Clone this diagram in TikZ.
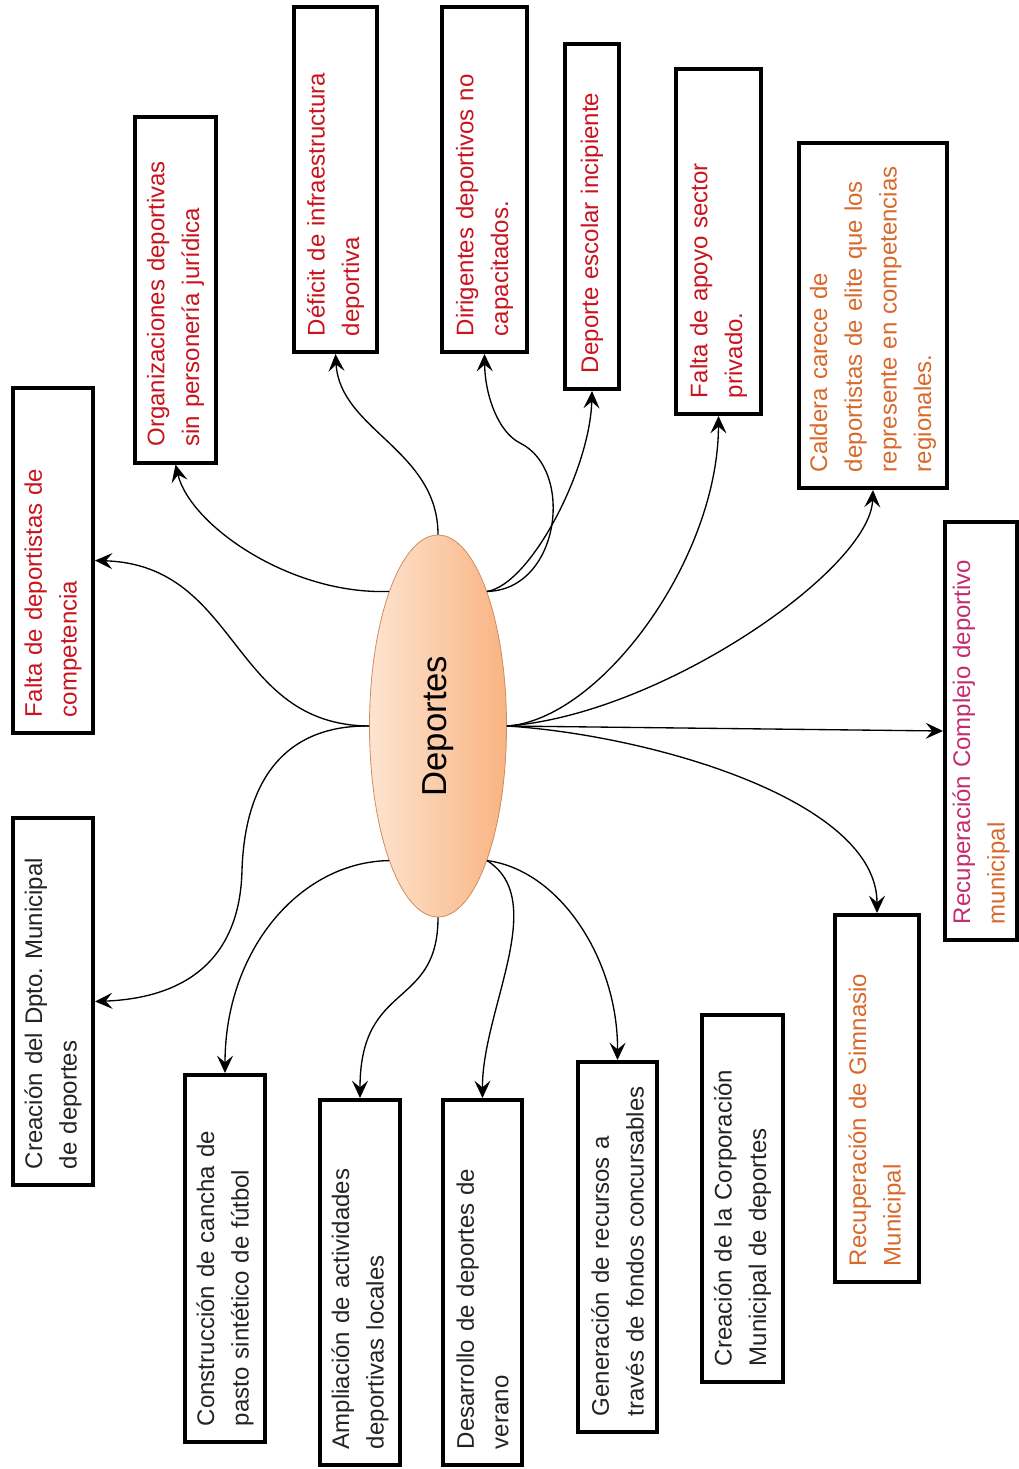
\documentclass[tikz,border=0pt]{standalone}
\usepackage{fontspec}
\setmainfont{Liberation Sans}
\usepackage{graphicx}
\usetikzlibrary{arrows.meta,shapes.geometric}

\definecolor{probred}{RGB}{200,20,30}
\definecolor{propblack}{RGB}{35,35,35}
\definecolor{ambar}{RGB}{215,105,45}
\definecolor{rosa}{RGB}{195,45,110}
\definecolor{peachL}{RGB}{253,228,208}
\definecolor{peachD}{RGB}{249,180,130}
\definecolor{peachEdge}{RGB}{205,140,95}

\tikzset{
  card/.style={draw, line width=3pt, rotate=90, align=left, inner xsep=12pt, inner ysep=0pt,
    font=\fontsize{18}{26}\selectfont\frenchspacing},
  problema/.style={card, text=probred},
  propuesta/.style={card, text=propblack},
  rama/.style={->, line width=1pt},
}

\begin{document}
\begin{tikzpicture}[x=0.75pt,y=-0.75pt,>={Stealth[length=13pt,width=12pt,inset=5pt]}]
\useasboundingbox (0,0) rectangle (1019,1469);

\node[ellipse, draw=peachEdge, line width=0.6pt, left color=peachL, right color=peachD,
  minimum width=102.75pt, minimum height=286.5pt, inner sep=0pt,
  font=\fontsize{26}{30}\selectfont] (dep) at (438,726) {\rotatebox{90}{Deportes}};

% problemas (arriba)
\node[problema, minimum width=258.75pt, minimum height=60pt, text width=234.75pt] (fdep) at (53,560.5)
  {Falta de deportistas de\\competencia};
\node[problema, minimum width=258.75pt, minimum height=60.75pt, text width=234.75pt] (org) at (175.5,290)
  {Organizaciones deportivas\\sin personería jurídica};
\node[problema, minimum width=258.75pt, minimum height=62.25pt, text width=234.75pt] (defi) at (335.5,179.5)
  {Déficit de infraestructura\\deportiva};
\node[problema, minimum width=258.75pt, minimum height=63.75pt, text width=234.75pt] (diri) at (484.5,179.5)
  {Dirigentes deportivos no\\capacitados.};
\node[problema, minimum width=258.75pt, minimum height=40.5pt, text width=234.75pt] (esco) at (592,216.5)
  {Deporte escolar incipiente};
\node[problema, minimum width=258.75pt, minimum height=63.75pt, text width=234.75pt] (apoyo) at (718.5,241.5)
  {Falta de apoyo sector\\privado.};
\node[card, text=ambar, minimum width=258.75pt, minimum height=111pt, text width=234.75pt] (cald) at (873,315.5)
  {Caldera carece de\\deportistas de elite que los\\represente en competencias\\regionales.};
\node[card, text=rosa, minimum width=313.5pt, minimum height=54pt, text width=289.5pt] (comp) at (981,731)
  {Recuperación Complejo deportivo\\\textcolor{ambar}{municipal}};

% propuestas (abajo)
\node[card, text=ambar, minimum width=275.25pt, minimum height=63pt, text width=251.25pt] (gimn) at (877,1098.5)
  {Recuperación de Gimnasio\\Municipal};
\node[propuesta, minimum width=275.25pt, minimum height=60pt, text width=251.25pt] (dpto) at (53,1001.5)
  {Creación del Dpto. Municipal\\de deportes};
\node[propuesta, minimum width=275.25pt, minimum height=60pt, text width=251.25pt] (canc) at (225,1258.5)
  {Construcción de cancha de\\pasto sintético de fútbol};
\node[propuesta, minimum width=273.75pt, minimum height=60pt, text width=249.75pt] (ampl) at (360,1282.5)
  {Ampliación de actividades\\deportivas locales};
\node[propuesta, minimum width=273.75pt, minimum height=59.25pt, text width=249.75pt] (vera) at (482.5,1282.5)
  {Desarrollo de deportes de\\verano};
\node[propuesta, minimum width=277.5pt, minimum height=59.25pt, text width=253.5pt] (recu) at (617.5,1247)
  {Generación de recursos a\\través de fondos concursables};
\node[propuesta, minimum width=275.25pt, minimum height=60.75pt, text width=251.25pt] (corp) at (742.5,1198.5)
  {Creación de la Corporación\\Municipal de deportes};

% ramas (cards rotated: west = bottom, east = top, south = right, north = left)
\draw[rama] (dep.west) .. controls (230,725) and (240,565) .. (fdep.south);
\draw[rama] (dep.110) .. controls (290,595) and (190,525) .. (org.west);
\draw[rama] (dep.north) .. controls (438,450) and (340,430) .. (defi.west);
\draw[rama] (dep.70) .. controls (560,590) and (575,470) .. (520,443)
  .. controls (498,432) and (485,395) .. (diri.west);
\draw[rama] (dep.70) .. controls (530,585) and (590,470) .. (esco.west);
\draw[rama] (dep.east) .. controls (600,720) and (718,560) .. (apoyo.west);
\draw[rama] (dep.east) .. controls (660,715) and (870,570) .. (cald.west);
\draw[rama] (dep.east) -- (comp.north);
\draw[rama] (dep.east) .. controls (650,735) and (877,800) .. (gimn.east);
\draw[rama] (dep.west) .. controls (285,725) and (245,780) .. (242,870)
  .. controls (240,960) and (185,998) .. (dpto.south);
\draw[rama] (dep.250) .. controls (300,862) and (225,950) .. (canc.east);
\draw[rama] (dep.south) .. controls (438,1010) and (360,980) .. (ampl.east);
\draw[rama] (dep.290) .. controls (550,900) and (482,1010) .. (vera.east);
\draw[rama] (dep.290) .. controls (560,870) and (618,960) .. (recu.east);

\end{tikzpicture}
\end{document}
